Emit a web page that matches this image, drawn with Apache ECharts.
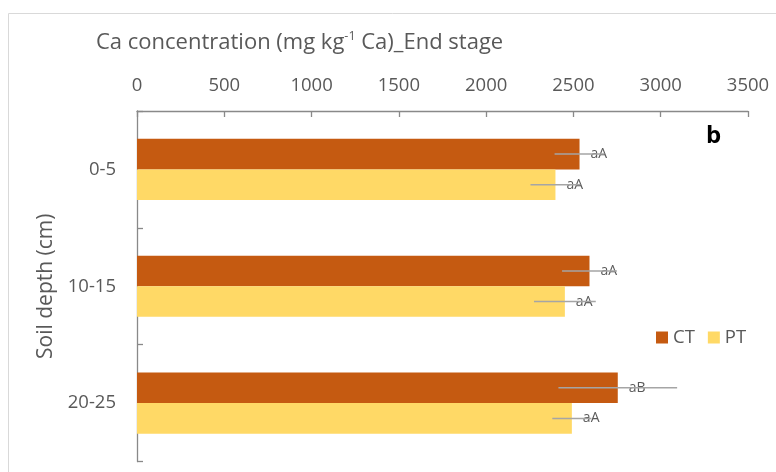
<!DOCTYPE html>
<html>
<head>
<meta charset="utf-8">
<script src="https://cdn.jsdelivr.net/npm/echarts@6/dist/echarts.min.js"></script>
<style>
html,body{margin:0;padding:0;background:#fff;}
#chart{width:776px;height:472px;}
</style>
</head>
<body>
<div id="chart"></div>
<script>
var categories = ['0-5', '10-15', '20-25'];
var ctValues = [2535, 2592, 2754];
var ptValues = [2397, 2451, 2491];
var ctErrors = [143, 157, 340];
var ptErrors = [143, 177, 112];
var ctLetters = ['aA', 'aA', 'aB'];
var ptLetters = ['aA', 'aA', 'aA'];
var xMin = 0, xMax = 3500, xStep = 500;

var FONT = 'Open Sans';
var GREY = '#595959';
var GAP = 0.476;

function errorSeries(name, values, errors, offsetSign) {
  return {
    type: 'custom',
    name: name + ' err',
    z: 5,
    silent: true,
    data: values.map(function (v, i) { return [v - errors[i], v + errors[i], i]; }),
    encode: { x: [0, 1], y: 2 },
    renderItem: function (params, api) {
      var lo = api.coord([api.value(0), api.value(2)]);
      var hi = api.coord([api.value(1), api.value(2)]);
      var band = api.size([0, 1])[1];
      var barW = band * (1 - GAP) / 2;
      var y = lo[1] + offsetSign * barW / 2;
      return {
        type: 'line',
        shape: { x1: lo[0], y1: y, x2: hi[0], y2: y },
        style: { stroke: '#A5A5A5', lineWidth: 1.5 }
      };
    }
  };
}

var chart = echarts.init(document.getElementById('chart'));
chart.setOption({
  animation: false,
  textStyle: { fontFamily: FONT },
  title: {
    text: '{n|Ca concentration (mg kg}{s|-1}{n| Ca)_End stage}',
    left: 91,
    top: 25,
    textStyle: {
      fontWeight: 'normal',
      rich: {
        n: { fontFamily: FONT, fontSize: 22, fontWeight: 'normal', color: GREY },
        s: { fontFamily: FONT, fontSize: 12.5, fontWeight: 'normal', color: GREY, verticalAlign: 'top', padding: [0, 0, 13, 0] }
      }
    }
  },
  legend: {
    data: ['CT', 'PT'],
    left: 651,
    top: 323,
    itemWidth: 12,
    itemHeight: 12,
    itemGap: 13,
    icon: 'rect',
    textStyle: { fontFamily: FONT, fontSize: 18.5, color: GREY }
  },
  grid: { left: 137, top: 111, right: 28, bottom: 10.5, containLabel: false },
  xAxis: {
    type: 'value',
    position: 'top',
    min: xMin,
    max: xMax,
    interval: xStep,
    axisLine: { show: true, lineStyle: { color: '#898989', width: 1.3 } },
    axisTick: { show: true, inside: true, length: 6, lineStyle: { color: '#898989', width: 1.3 } },
    axisLabel: { fontFamily: FONT, fontSize: 18.5, color: GREY, margin: 16,
      formatter: function (v) { return String(v); } },
    splitLine: { show: false }
  },
  yAxis: {
    type: 'category',
    inverse: true,
    data: categories,
    name: 'Soil depth (cm)',
    nameLocation: 'middle',
    nameRotate: 90,
    nameGap: 74,
    nameTextStyle: { fontFamily: FONT, fontSize: 21, color: GREY },
    axisLine: { show: true, lineStyle: { color: '#898989', width: 1.3 } },
    axisTick: { show: true, inside: true, length: 6, lineStyle: { color: '#898989', width: 1.3 } },
    axisLabel: { fontFamily: FONT, fontSize: 18.5, color: GREY, margin: 21 }
  },
  graphic: [
    { type: 'rect', shape: { x: 8.5, y: 13.5, width: 900, height: 600 }, style: { fill: 'none', stroke: '#d9d9d9', lineWidth: 1 }, silent: true, z: -10 },
    { type: 'text', left: 706, top: 124, style: { text: 'b', fontFamily: FONT, fontWeight: 'bold', fontSize: 24, fill: '#000' } }
  ],
  series: [
    {
      type: 'bar', name: 'CT', data: ctValues,
      barGap: '0%', barCategoryGap: (GAP * 100) + '%',
      itemStyle: { color: '#C55A11' },
      label: { show: true, position: 'right', distance: 11, fontFamily: FONT, fontSize: 14, color: GREY,
        formatter: function (p) { return ctLetters[p.dataIndex]; } },
      z: 2
    },
    {
      type: 'bar', name: 'PT', data: ptValues,
      itemStyle: { color: '#FFD966' },
      label: { show: true, position: 'right', distance: 11, fontFamily: FONT, fontSize: 14, color: GREY,
        formatter: function (p) { return ptLetters[p.dataIndex]; } },
      z: 2
    },
    errorSeries('CT', ctValues, ctErrors, -1),
    errorSeries('PT', ptValues, ptErrors, 1)
  ]
});
</script>
</body>
</html>
